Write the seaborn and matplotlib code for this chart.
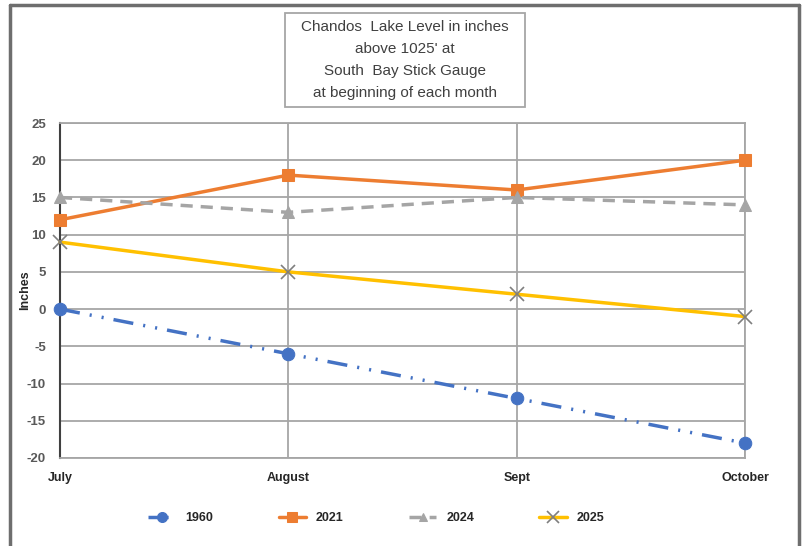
import matplotlib.pyplot as plt
import matplotlib.lines as mlines
import matplotlib.patches as mpatches
import seaborn as sns
import pandas as pd

months = ["July", "August", "Sept", "October"]
y1960 = [0, -6, -12, -18]
y2021 = [12, 18, 16, 20]
y2024 = [15, 13, 15, 14]
y2025 = [9, 5, 2, -1]

if __name__ == '__main__':
    sns.set_theme(style="white")
    plt.rcParams['font.family'] = ['Liberation Sans', 'DejaVu Sans']
    plt.rcParams['axes.unicode_minus'] = False

    fig = plt.figure(figsize=(8.04, 5.46), dpi=100)
    ax = fig.add_axes([60 / 804, 1 - 458 / 546, 685 / 804, 335 / 546])

    df = pd.DataFrame({"x": range(len(months)), "1960": y1960, "2021": y2021,
                       "2024": y2024, "2025": y2025})

    styles = {
        "1960": dict(color="#4472C4", marker="o", markersize=9, dashes=(5.8, 2.9, 0.6, 2.9, 0.6, 2.9),
                     markeredgecolor="#4472C4"),
        "2021": dict(color="#ED7D31", marker="s", markersize=9, dashes=(None, None),
                     markeredgecolor="#ED7D31"),
        "2024": dict(color="#A5A5A5", marker="^", markersize=8, dashes=(3.5, 2.3),
                     markeredgecolor="#A5A5A5"),
        "2025": dict(color="#FFC000", marker="x", markersize=10, dashes=(None, None),
                     markeredgecolor="#7f7f7f", markeredgewidth=1.2),
    }
    for name in ["1960", "2021", "2024", "2025"]:
        st = dict(styles[name])
        d = st.pop("dashes")
        sns.lineplot(data=df, x="x", y=name, ax=ax, label=name, linewidth=2.5, **st)
        l = ax.lines[-1]
        if d[0] is not None:
            l.set_dashes(d)
        l.set_clip_on(False)
        l.set_zorder(5 + list(styles).index(name))

    ax.set_xlim(0, 3)
    ax.set_ylim(-20, 25)
    ax.set_yticks(range(-20, 26, 5))
    ax.set_xticks(range(len(months)))
    ax.set_xticklabels(months, fontsize=9, fontweight="bold", color="#262626")
    ax.tick_params(axis="y", labelsize=9.5, labelcolor="#595959", pad=10, length=0)
    ax.tick_params(axis="x", pad=10, length=0)
    for t in ax.get_yticklabels():
        t.set_fontweight("bold")
    ax.set_xlabel("")
    ax.set_ylabel("Inches", fontsize=9, fontweight="bold", color="#262626")
    ax.yaxis.set_label_coords(-29 / 685, 0.5)
    ax.grid(True, color="#a6a6a6", linewidth=1.3)
    for s in ["top", "right", "bottom"]:
        ax.spines[s].set_color("#a6a6a6")
        ax.spines[s].set_linewidth(1.3)
    ax.spines["left"].set_color("#404040")
    ax.spines["left"].set_linewidth(1.5)
    ax.legend_.remove()

    handles, labels = ax.get_legend_handles_labels()
    fig.legend(handles, labels, loc="center", bbox_to_anchor=(0.468, 1 - 518 / 546), ncol=4,
               frameon=False, columnspacing=5.2, handlelength=2.2, markerscale=0.8,
               prop=dict(weight="bold", size=9))

    # title box
    fig.patches.append(mpatches.Rectangle((285 / 804, 1 - 107 / 546), 240 / 804, 94 / 546,
                                          transform=fig.transFigure, fill=False,
                                          edgecolor="#a6a6a6", linewidth=1.3))
    fig.text(405 / 804, 1 - 60 / 546,
             "Chandos  Lake Level in inches\nabove 1025' at\nSouth  Bay Stick Gauge\nat beginning of each month",
             ha="center", va="center", fontsize=11, color="#404040", linespacing=1.75)

    # outer frame
    for xs, ys in [((10, 799), (5, 5)), ((10, 10), (5, 546)), ((799, 799), (5, 546))]:
        fig.add_artist(mlines.Line2D([x / 804 for x in xs], [1 - y / 546 for y in ys],
                                     color="#6e6e6e", linewidth=2.5, transform=fig.transFigure))

    fig.savefig("out.png", dpi=100)
